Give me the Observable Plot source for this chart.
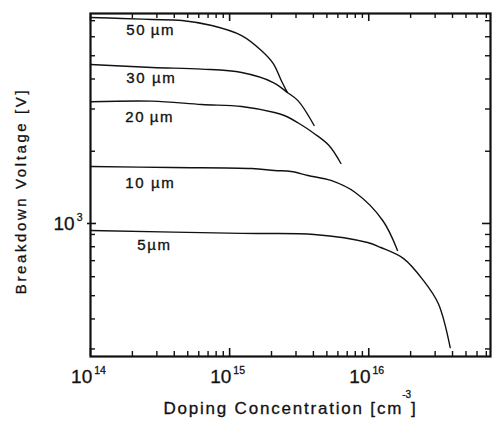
<!DOCTYPE html>
<html><head><meta charset="utf-8">
<script src="https://cdn.jsdelivr.net/npm/d3@7"></script>
<script src="https://cdn.jsdelivr.net/npm/@observablehq/plot@0.6"></script>
<style>body{margin:0;background:#fff}svg{display:block}</style>
</head><body><div id="chart"></div>
<script>
// ---- data ----
const seriesNames = ["50µm", "30µm", "20µm", "10µm", "5µm"];
const doping50 = [1e14, 1.69e14, 2.77e14, 4.54e14, 7.44e14, 1.22e15, 1.69e15, 2.06e15, 2.35e15, 2.6e15];
const volt50   = [7220, 7150, 7080, 7015, 6683, 6070, 5260, 4640, 3945, 3516];
const doping30 = [1e14, 2.77e14, 6.3e14, 1.22e15, 2.06e15, 2.6e15, 3.1e15, 4.05e15];
const volt30   = [4598, 4467, 4400, 4256, 3868, 3516, 3250, 2560];
const doping20 = [1e14, 2.77e14, 6.3e14, 1.22e15, 2.1e15, 2.47e15, 3.16e15, 4.05e15, 5.18e15, 6.31e15];
const volt20   = [3215, 3235, 3133, 3073, 2901, 2818, 2610, 2371, 2113, 1778];
const doping10 = [1e14, 3.85e14, 1.44e15, 2.1e15, 2.77e15, 3.66e15, 5.35e15, 8.0e15, 1.26e16, 1.61e16];
const volt10   = [1728, 1711, 1695, 1663, 1647, 1585, 1511, 1346, 1029, 772];
const doping5  = [1e14, 1.22e15, 4.05e15, 9.8e15, 1.22e16, 1.78e16, 2.47e16, 3.16e16, 3.85e16];
const volt5    = [935, 909, 900, 833, 794, 714, 579, 464, 304];

const curveLabels = ["50\u2009µm", "30 µm", "20\u2009µm", "10 µm", "5µm"];
const labelDoping = [1.81e14, 1.81e14, 1.78e14, 1.78e14, 2.17e14];
const labelVolt   = [6370, 4018, 2765, 1468, 810];

const xMajorTicks = [1e14, 1e15, 1e16];
const xMajorLabels = ["10^{14}", "10^{15}", "10^{16}"];
const xMinorTicks = [2e14,3e14,4e14,5e14,6e14,7e14,8e14,9e14,2e15,3e15,4e15,5e15,6e15,7e15,8e15,9e15,2e16,3e16,4e16,5e16,6e16,7e16];
const yMajorTicks = [1000];
const yMajorLabels = ["10^{3}"];
const yMinorTicks = [300,400,500,600,700,800,900,2000,3000,4000,5000,6000,7000];

const xTitle = "Doping Concentration [cm^{-3}]";
const yTitle = "Breakdown Voltage [V]";

// ---- build table ----
const allDoping = [doping50, doping30, doping20, doping10, doping5];
const allVolt = [volt50, volt30, volt20, volt10, volt5];
const table = seriesNames.flatMap((s, i) => allDoping[i].map((d, j) => ({series: s, doping: d, volt: allVolt[i][j]})));
const labelTable = curveLabels.map((t, i) => ({text: t, doping: labelDoping[i], volt: labelVolt[i]}));

const W = 493, H = 423, mL = 90, mT = 13, mR = 3, mB = 67;
const iW = W - mL - mR, iH = H - mT - mB;
const font = "'Liberation Sans', Arial, Helvetica, sans-serif";
const ink = "#111";

const chart = Plot.plot({
  width: W, height: H,
  marginLeft: mL, marginTop: mT, marginRight: mR, marginBottom: mB,
  style: {fontFamily: font, background: "white", color: ink},
  x: {type: "log", domain: [1e14, 7.5e16], axis: null},
  y: {type: "log", domain: [279, 7500], axis: null},
  marks: [
    // x ticks bottom (inward) and top (inward)
    Plot.ruleX(xMinorTicks, {stroke: ink, strokeWidth: 1.4, insetTop: iH - 5}),
    Plot.ruleX(xMajorTicks, {stroke: ink, strokeWidth: 1.6, insetTop: iH - 8}),
    Plot.ruleX(xMinorTicks, {stroke: ink, strokeWidth: 1.4, insetBottom: iH - 5}),
    Plot.ruleX(xMajorTicks, {stroke: ink, strokeWidth: 1.6, insetBottom: iH - 8}),
    // y ticks left and right (inward)
    Plot.ruleY(yMinorTicks, {stroke: ink, strokeWidth: 1.4, insetRight: iW - 5}),
    Plot.ruleY(yMajorTicks, {stroke: ink, strokeWidth: 1.6, insetRight: iW - 6, insetLeft: -3}),
    Plot.ruleY(yMinorTicks, {stroke: ink, strokeWidth: 1.4, insetLeft: iW - 5}),
    Plot.ruleY(yMajorTicks, {stroke: ink, strokeWidth: 1.6, insetLeft: iW - 8}),
    Plot.frame({stroke: ink, strokeWidth: 2.2}),
    // curves
    Plot.line(table, {x: "doping", y: "volt", z: "series", curve: "catmull-rom", stroke: ink, strokeWidth: 1.4}),
    // curve labels
    Plot.text(labelTable, {x: "doping", y: "volt", text: "text", textAnchor: "start", fontSize: 15, fill: ink, stroke: ink, strokeWidth: 0.35, lineAnchor: "middle"}),
    // tick labels
    Plot.text(xMajorTicks, {x: d => d, text: (d, i) => xMajorLabels[i], frameAnchor: "bottom", textAnchor: "middle", dx: -2, dy: 20, fontSize: 19, fill: ink, stroke: ink, strokeWidth: 0.3, lineAnchor: "middle"}),
    Plot.text(yMajorTicks, {y: d => d, text: (d, i) => yMajorLabels[i], frameAnchor: "left", textAnchor: "end", dx: -8, fontSize: 19, fill: ink, stroke: ink, strokeWidth: 0.3, lineAnchor: "middle"}),
    // axis titles
    Plot.text([xTitle], {text: d => d, frameAnchor: "bottom", textAnchor: "middle", dy: 52, fontSize: 17, fill: ink, stroke: ink, strokeWidth: 0.3, lineAnchor: "middle"}),
    Plot.text([yTitle], {text: d => d, frameAnchor: "left", textAnchor: "middle", dx: -69, dy: 6, rotate: -90, fontSize: 15, fill: ink, stroke: ink, strokeWidth: 0.3, lineAnchor: "middle"})
  ]
});
document.getElementById("chart").appendChild(chart);

// letter spacing tweaks
d3.select(chart).selectAll("text").each(function() {
  const t = this.textContent;
  if (t.includes("µm")) this.setAttribute("letter-spacing", "1.6");
  if (t.startsWith("Doping")) this.setAttribute("letter-spacing", "1.8");
  if (t.startsWith("Breakdown")) this.setAttribute("letter-spacing", "2.6");
});

// superscripts
d3.select(chart).selectAll("text").each(function() {
  const t = this.textContent;
  if (!t.includes("^{")) return;
  const isTitle = t.startsWith("Doping");
  const supSize = isTitle ? 10 : 10.5;
  const shift = isTitle ? 16 : 9;
  const sel = d3.select(this);
  sel.text(null);
  const parts = t.split(/(\^\{[^}]*\})/);
  let shifted = false;
  for (const p of parts) {
    if (!p) continue;
    if (p.startsWith("^{")) {
      const sp = sel.append("tspan").attr("dy", -shift).attr("font-size", supSize).text(p.slice(2, -1));
      if (isTitle) sp.attr("letter-spacing", "0").attr("dx", -1); else sp.attr("dx", 2);
      shifted = true;
    } else {
      const ts = sel.append("tspan").text(p);
      if (shifted) { ts.attr("dy", shift); shifted = false; }
    }
  }
});
</script>
</body></html>
